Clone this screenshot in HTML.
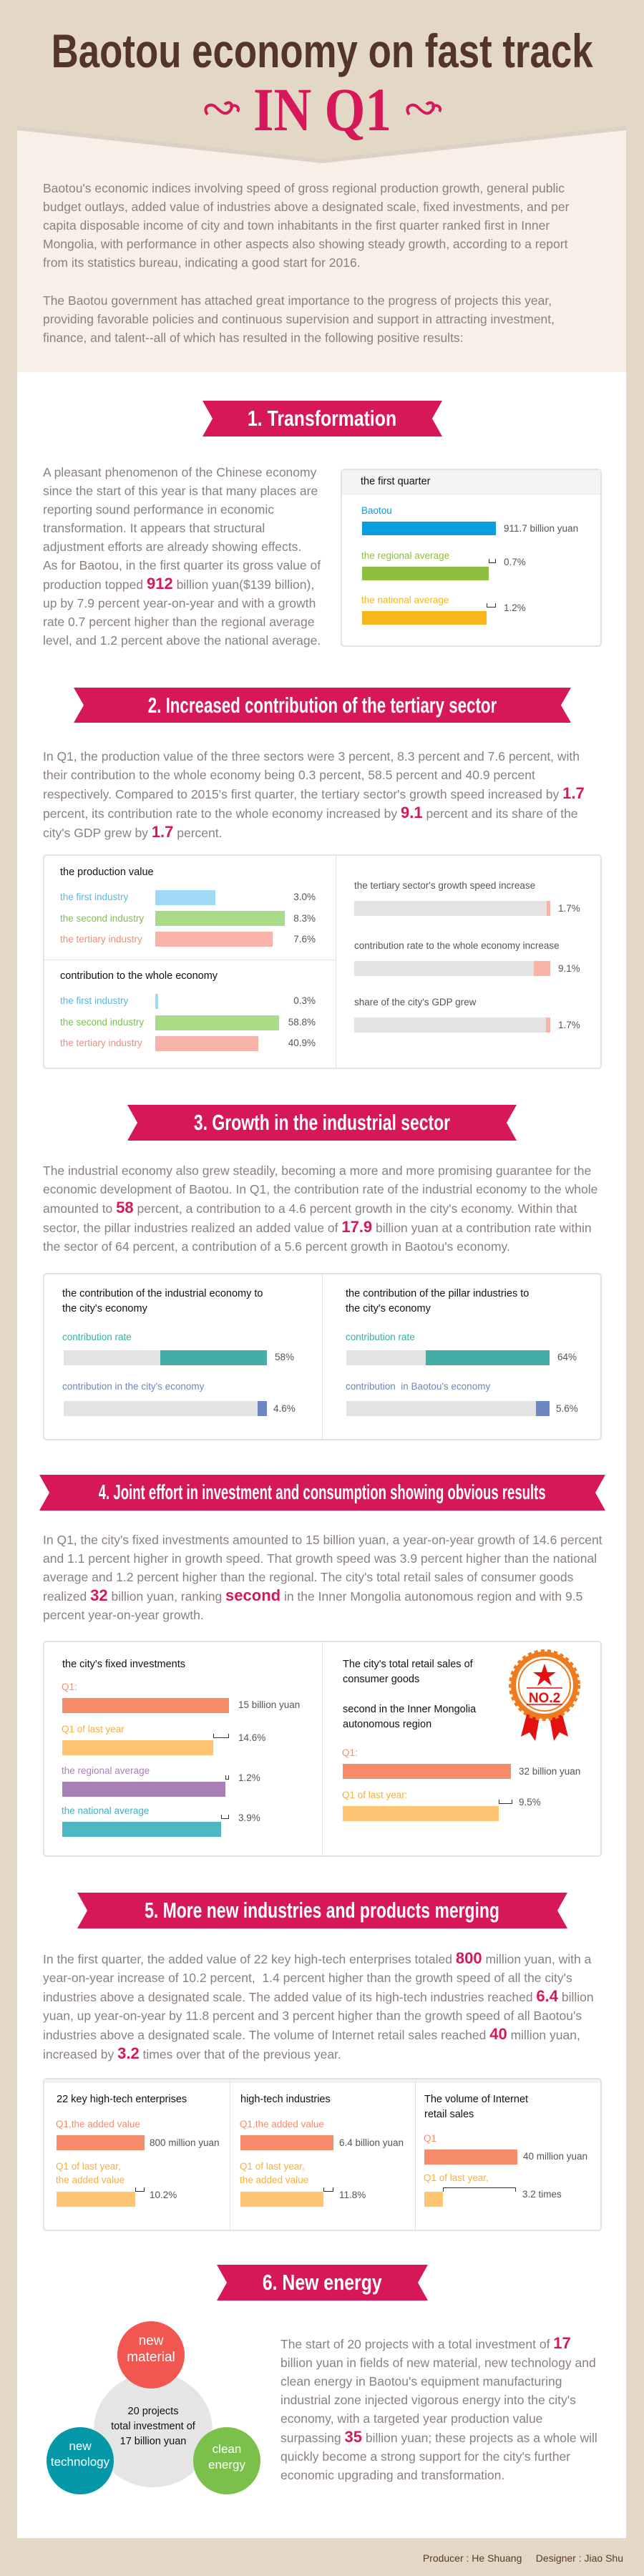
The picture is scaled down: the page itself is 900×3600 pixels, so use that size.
<!DOCTYPE html>
<html><head><meta charset="utf-8">
<style>
*{margin:0;padding:0;box-sizing:border-box}
body{width:900px;height:3600px;background:#e3d8c6;position:relative;overflow:hidden;font-family:"Liberation Sans",sans-serif}
.a{position:absolute}
.t{position:absolute;white-space:nowrap;line-height:20px;font-size:13.5px;color:#555}
.p{position:absolute;white-space:nowrap;font-size:17.5px;line-height:26px;color:#8b817d;letter-spacing:0px}
.p b{color:#d6185a;font-size:22px;font-weight:bold}
.ban{position:absolute;background:#d6185a;clip-path:polygon(0 0,100% 0,calc(100% - 14px) 50%,100% 100%,0 100%,14px 50%);color:#fff;font-weight:bold;display:flex;justify-content:center;align-items:center}
.ban span{display:inline-block;transform:scaleX(0.8);white-space:nowrap;font-size:31px;line-height:50px;flex:none}
.box{position:absolute;border:2px solid #e2e2e2;border-radius:5px;background:#fff}
.bar{position:absolute}
.br{position:absolute;border:1.5px solid #333;border-top:none;height:6px}
.h{color:#111;font-size:14.5px}
</style></head><body>

<div class="a" style="left:24px;top:176px;width:851px;height:344px;background:#f6f0e7"></div>
<div class="a" style="left:24px;top:520px;width:851px;height:3027px;background:#fff"></div>
<svg class="a" style="left:0;top:0" width="900" height="240">
<polygon points="24,182 450,228 875,182 875,170 24,170" fill="#c8beb2" opacity="0.6"/>
<polygon points="24,176 450,222 875,176 875,0 24,0" fill="#e3d8c6"/>
<g fill="none" stroke="#d6185a" stroke-width="4">
<path d="M290,160 c-8,-10 4,-18 12,-10 c8,8 14,12 20,4 c6,-8 -2,-14 -8,-8"/>
<path d="M322,150 c6,-6 14,0 10,6"/>
<path d="M572,160 c-8,-10 4,-18 12,-10 c8,8 14,12 20,4 c6,-8 -2,-14 -8,-8"/>
<path d="M604,150 c6,-6 14,0 10,6"/>
</g>
</svg>

<div class="a" style="left:0;top:38px;width:900px;display:flex;justify-content:center;font-weight:bold;color:#55342a;font-size:66px;line-height:66px"><span style="display:inline-block;transform:scaleX(0.8);white-space:nowrap;flex:none">Baotou economy on fast track</span></div>
<div class="a" style="left:0;top:113px;width:900px;text-align:center;font-family:'Liberation Serif',serif;font-weight:bold;color:#d6185a;font-size:86px;line-height:80px"><span style="display:inline-block;transform:scaleX(0.85)">IN Q1</span></div>

<div class="p" style="left:60px;top:250px">Baotou's economic indices involving speed of gross regional production growth, general public<br>budget outlays, added value of industries above a designated scale, fixed investments, and per<br>capita disposable income of city and town inhabitants in the first quarter ranked first in Inner<br>Mongolia, with performance in other aspects also showing steady growth, according to a report<br>from its statistics bureau, indicating a good start for 2016.</div>
<div class="p" style="left:60px;top:407px">The Baotou government has attached great importance to the progress of projects this year,<br>providing favorable policies and continuous supervision and support in attracting investment,<br>finance, and talent--all of which has resulted in the following positive results:</div>

<div class="ban" style="left:283px;top:560px;width:335px;height:50px"><span>1. Transformation</span></div>
<div class="p" style="left:60px;top:647px">A pleasant phenomenon of the Chinese economy<br>since the start of this year is that many places are<br>reporting sound performance in economic<br>transformation. It appears that structural<br>adjustment efforts are already showing effects.<br>As for Baotou, in the first quarter its gross value of<br>production topped <b>912</b> billion yuan($139 billion),<br>up by 7.9 percent year-on-year and with a growth<br>rate 0.7 percent higher than the regional average<br>level, and 1.2 percent above the national average.</div>

<div class="box" style="left:476px;top:655px;width:365px;height:249px"></div>
<div class="a" style="left:478px;top:657px;width:361px;height:34px;background:#f4f4f4;border-bottom:1px solid #e8e8e8"></div>
<div class="t h" style="left:504px;top:663px">the first quarter</div>
<div class="t" style="left:505px;top:704px;color:#0a9ade">Baotou</div>
<div class="bar" style="left:506px;top:729px;width:187px;height:19px;background:#0a9de0"></div>
<div class="t" style="left:704px;top:729px">911.7 billion yuan</div>
<div class="t" style="left:505px;top:767px;color:#8fbf40">the regional average</div>
<div class="bar" style="left:506px;top:792px;width:177px;height:19px;background:#8fbf40"></div>
<div class="br" style="left:683px;top:781px;width:10px"></div>
<div class="t" style="left:704px;top:776px">0.7%</div>
<div class="t" style="left:505px;top:829px;color:#f5b61e">the national average</div>
<div class="bar" style="left:506px;top:854px;width:174px;height:19px;background:#f5b61e"></div>
<div class="br" style="left:680px;top:843px;width:13px"></div>
<div class="t" style="left:704px;top:840px">1.2%</div>

<div class="ban" style="left:103px;top:961px;width:695px;height:49px"><span style="transform:scaleX(0.72)">2. Increased contribution of the tertiary sector</span></div>
<div class="p" style="left:60px;top:1044px">In Q1, the production value of the three sectors were 3 percent, 8.3 percent and 7.6 percent, with<br>their contribution to the whole economy being 0.3 percent, 58.5 percent and 40.9 percent<br>respectively. Compared to 2015's first quarter, the tertiary sector's growth speed increased by <b>1.7</b><br>percent, its contribution rate to the whole economy increased by <b>9.1</b> percent and its share of the<br>city's GDP grew by <b>1.7</b> percent.</div>

<div class="box" style="left:60px;top:1194px;width:781px;height:300px"></div>
<div class="a" style="left:469px;top:1196px;width:1px;height:296px;background:#e2e2e2"></div>
<div class="a" style="left:62px;top:1341px;width:408px;height:1px;background:#e2e2e2"></div>
<div class="t h" style="left:84px;top:1209px">the production value</div>
<div class="t" style="left:84px;top:1244px;color:#55b8e8">the first industry</div>
<div class="bar" style="left:217px;top:1244px;width:84px;height:21px;background:#a0d8f5"></div>
<div class="t" style="left:400px;top:1244px;width:41px;text-align:right">3.0%</div>
<div class="t" style="left:84px;top:1274px;color:#7cc04a">the second industry</div>
<div class="bar" style="left:217px;top:1273px;width:181px;height:21px;background:#aadc88"></div>
<div class="t" style="left:400px;top:1274px;width:41px;text-align:right">8.3%</div>
<div class="t" style="left:84px;top:1303px;color:#f08d7b">the tertiary industry</div>
<div class="bar" style="left:217px;top:1302px;width:164px;height:21px;background:#f7b3a7"></div>
<div class="t" style="left:400px;top:1303px;width:41px;text-align:right">7.6%</div>
<div class="t h" style="left:84px;top:1354px">contribution to the whole economy</div>
<div class="t" style="left:84px;top:1389px;color:#55b8e8">the first industry</div>
<div class="bar" style="left:217px;top:1389px;width:4px;height:21px;background:#a0d8f5"></div>
<div class="t" style="left:400px;top:1389px;width:41px;text-align:right">0.3%</div>
<div class="t" style="left:84px;top:1419px;color:#7cc04a">the second industry</div>
<div class="bar" style="left:217px;top:1419px;width:173px;height:21px;background:#aadc88"></div>
<div class="t" style="left:400px;top:1419px;width:41px;text-align:right">58.8%</div>
<div class="t" style="left:84px;top:1448px;color:#f08d7b">the tertiary industry</div>
<div class="bar" style="left:217px;top:1448px;width:144px;height:21px;background:#f7b3a7"></div>
<div class="t" style="left:400px;top:1448px;width:41px;text-align:right">40.9%</div>

<div class="t" style="left:495px;top:1228px">the tertiary sector's growth speed increase</div>
<div class="bar" style="left:495px;top:1259px;width:274px;height:21px;background:#e3e3e3"></div>
<div class="bar" style="left:764px;top:1259px;width:5px;height:21px;background:#f7b3a7"></div>
<div class="t" style="left:780px;top:1260px">1.7%</div>
<div class="t" style="left:495px;top:1312px">contribution rate to the whole economy increase</div>
<div class="bar" style="left:495px;top:1343px;width:274px;height:21px;background:#e3e3e3"></div>
<div class="bar" style="left:746px;top:1343px;width:23px;height:21px;background:#f7b3a7"></div>
<div class="t" style="left:780px;top:1344px">9.1%</div>
<div class="t" style="left:495px;top:1391px">share of the city's GDP grew</div>
<div class="bar" style="left:495px;top:1422px;width:274px;height:21px;background:#e3e3e3"></div>
<div class="bar" style="left:763px;top:1422px;width:6px;height:21px;background:#f7b3a7"></div>
<div class="t" style="left:780px;top:1423px">1.7%</div>

<div class="ban" style="left:178px;top:1544px;width:544px;height:50px"><span style="transform:scaleX(0.74)">3. Growth in the industrial sector</span></div>
<div class="p" style="left:60px;top:1623px">The industrial economy also grew steadily, becoming a more and more promising guarantee for the<br>economic development of Baotou. In Q1, the contribution rate of the industrial economy to the whole<br>amounted to <b>58</b> percent, a contribution to a 4.6 percent growth in the city's economy. Within that<br>sector, the pillar industries realized an added value of <b>17.9</b> billion yuan at a contribution rate within<br>the sector of 64 percent, a contribution of a 5.6 percent growth in Baotou's economy.</div>

<div class="box" style="left:60px;top:1779px;width:781px;height:234px"></div>
<div class="a" style="left:450px;top:1781px;width:1px;height:230px;background:#e2e2e2"></div>
<div class="t h" style="left:87px;top:1798px;line-height:21px">the contribution of the industrial economy to<br>the city's economy</div>
<div class="t h" style="left:483px;top:1798px;line-height:21px">the contribution of the pillar industries to<br>the city's economy</div>
<div class="t" style="left:87px;top:1859px;color:#3aaea0">contribution rate</div>
<div class="bar" style="left:89px;top:1887px;width:284px;height:21px;background:#e3e3e3"></div>
<div class="bar" style="left:224px;top:1887px;width:149px;height:21px;background:#43aea5"></div>
<div class="t" style="left:384px;top:1887px">58%</div>
<div class="t" style="left:87px;top:1928px;color:#6b86c0">contribution in the city's economy</div>
<div class="bar" style="left:89px;top:1958px;width:284px;height:21px;background:#e3e3e3"></div>
<div class="bar" style="left:360px;top:1958px;width:13px;height:21px;background:#6b86c0"></div>
<div class="t" style="left:382px;top:1959px">4.6%</div>
<div class="t" style="left:483px;top:1859px;color:#3aaea0">contribution rate</div>
<div class="bar" style="left:484px;top:1887px;width:284px;height:21px;background:#e3e3e3"></div>
<div class="bar" style="left:595px;top:1887px;width:173px;height:21px;background:#43aea5"></div>
<div class="t" style="left:779px;top:1887px">64%</div>
<div class="t" style="left:483px;top:1928px;color:#6b86c0">contribution &nbsp;in Baotou's economy</div>
<div class="bar" style="left:484px;top:1958px;width:284px;height:21px;background:#e3e3e3"></div>
<div class="bar" style="left:749px;top:1958px;width:19px;height:21px;background:#6b86c0"></div>
<div class="t" style="left:777px;top:1959px">5.6%</div>

<div class="ban" style="left:55px;top:2061px;width:791px;height:50px"><span style="font-size:29px;transform:scaleX(0.64)">4. Joint effort in investment and consumption showing obvious results</span></div>
<div class="p" style="left:60px;top:2139px">In Q1, the city's fixed investments amounted to 15 billion yuan, a year-on-year growth of 14.6 percent<br>and 1.1 percent higher in growth speed. That growth speed was 3.9 percent higher than the national<br>average and 1.2 percent higher than the regional. The city's total retail sales of consumer goods<br>realized <b>32</b> billion yuan, ranking <b>second</b> in the Inner Mongolia autonomous region and with 9.5<br>percent year-on-year growth.</div>

<div class="box" style="left:60px;top:2293px;width:781px;height:302px"></div>
<div class="a" style="left:450px;top:2295px;width:1px;height:298px;background:#e2e2e2"></div>
<div class="t h" style="left:87px;top:2316px">the city's fixed investments</div>
<div class="t" style="left:86px;top:2348px;color:#f68c6a">Q1:</div>
<div class="bar" style="left:87px;top:2373px;width:233px;height:21px;background:#f68c6a"></div>
<div class="t" style="left:333px;top:2373px">15 billion yuan</div>
<div class="t" style="left:86px;top:2407px;color:#f9ae3e">Q1 of last year</div>
<div class="bar" style="left:87px;top:2432px;width:211px;height:21px;background:#fec573"></div>
<div class="br" style="left:298px;top:2423px;width:22px"></div>
<div class="t" style="left:333px;top:2419px">14.6%</div>
<div class="t" style="left:86px;top:2465px;color:#a97fb8">the regional average</div>
<div class="bar" style="left:87px;top:2490px;width:228px;height:21px;background:#a97fb8"></div>
<div class="br" style="left:315px;top:2481px;width:5px"></div>
<div class="t" style="left:333px;top:2475px">1.2%</div>
<div class="t" style="left:86px;top:2521px;color:#3bb3c3">the national average</div>
<div class="bar" style="left:87px;top:2546px;width:222px;height:21px;background:#4db8c4"></div>
<div class="br" style="left:309px;top:2536px;width:11px"></div>
<div class="t" style="left:333px;top:2531px">3.9%</div>

<div class="t h" style="left:479px;top:2316px;line-height:21px">The city's total retail sales of<br>consumer goods</div>
<div class="t h" style="left:479px;top:2379px;line-height:21px">second in the Inner Mongolia<br>autonomous region</div>
<svg class="a" style="left:706px;top:2305px" width="110" height="135">
<polygon points="38,60 22,122 34,116 42,128 52,72" fill="#e3110f"/>
<polygon points="72,60 88,122 76,116 68,128 58,72" fill="#e3110f"/>
<circle cx="55" cy="50" r="47" fill="#f07a1e" stroke="#f07a1e" stroke-width="6" stroke-dasharray="5 4"/>
<circle cx="55" cy="50" r="40" fill="#fff"/>
<circle cx="55" cy="50" r="36" fill="none" stroke="#f07a1e" stroke-width="2"/>
<polygon points="55,20 59,32 71,32 61,39 65,51 55,43 45,51 49,39 39,32 51,32" fill="#e3110f"/>
<line x1="30" y1="54" x2="80" y2="54" stroke="#e3110f" stroke-width="1.5"/>
<line x1="30" y1="77" x2="80" y2="77" stroke="#e3110f" stroke-width="1.5"/>
<text x="55" y="74" text-anchor="middle" font-family="Liberation Sans" font-weight="bold" font-size="19" fill="#e3110f">NO.2</text>
</svg>
<div class="t" style="left:478px;top:2440px;color:#f68c6a">Q1:</div>
<div class="bar" style="left:479px;top:2465px;width:235px;height:21px;background:#f68c6a"></div>
<div class="t" style="left:725px;top:2466px">32 billion yuan</div>
<div class="t" style="left:478px;top:2499px;color:#f9ae3e">Q1 of last year:</div>
<div class="bar" style="left:479px;top:2524px;width:218px;height:21px;background:#fec573"></div>
<div class="br" style="left:697px;top:2515px;width:19px"></div>
<div class="t" style="left:725px;top:2509px">9.5%</div>

<div class="ban" style="left:108px;top:2645px;width:685px;height:50px"><span style="transform:scaleX(0.74)">5. More new industries and products merging</span></div>
<div class="p" style="left:60px;top:2724px">In the first quarter, the added value of 22 key high-tech enterprises totaled <b>800</b> million yuan, with a<br>year-on-year increase of 10.2 percent, &nbsp;1.4 percent higher than the growth speed of all the city's<br>industries above a designated scale. The added value of its high-tech industries reached <b>6.4</b> billion<br>yuan, up year-on-year by 11.8 percent and 3 percent higher than the growth speed of all Baotou's<br>industries above a designated scale. The volume of Internet retail sales reached <b>40</b> million yuan,<br>increased by <b>3.2</b> times over that of the previous year.</div>

<div class="box" style="left:60px;top:2904px;width:781px;height:214px"></div>
<div class="a" style="left:62px;top:2906px;width:777px;height:5px;background:#f2f2f2"></div>
<div class="a" style="left:321px;top:2906px;width:1px;height:210px;background:#e2e2e2"></div>
<div class="a" style="left:580px;top:2906px;width:1px;height:210px;background:#e2e2e2"></div>
<div class="t h" style="left:79px;top:2924px">22 key high-tech enterprises</div>
<div class="t h" style="left:336px;top:2924px">high-tech industries</div>
<div class="t h" style="left:593px;top:2924px;line-height:21px">The volume of Internet<br>retail sales</div>

<div class="t" style="left:78px;top:2959px;color:#f68c6a">Q1,the added value</div>
<div class="bar" style="left:79px;top:2984px;width:123px;height:21px;background:#f68c6a"></div>
<div class="t" style="left:209px;top:2985px">800 million yuan</div>
<div class="t" style="left:78px;top:3018px;line-height:19px;color:#f9ae3e">Q1 of last year,<br>the added value</div>
<div class="bar" style="left:79px;top:3063px;width:110px;height:21px;background:#fec573"></div>
<div class="br" style="left:189px;top:3057px;width:13px"></div>
<div class="t" style="left:209px;top:3058px">10.2%</div>

<div class="t" style="left:335px;top:2959px;color:#f68c6a">Q1,the added value</div>
<div class="bar" style="left:336px;top:2984px;width:130px;height:21px;background:#f68c6a"></div>
<div class="t" style="left:474px;top:2985px">6.4 billion yuan</div>
<div class="t" style="left:335px;top:3018px;line-height:19px;color:#f9ae3e">Q1 of last year,<br>the added value</div>
<div class="bar" style="left:336px;top:3063px;width:116px;height:21px;background:#fec573"></div>
<div class="br" style="left:452px;top:3057px;width:14px"></div>
<div class="t" style="left:474px;top:3058px">11.8%</div>

<div class="t" style="left:592px;top:2979px;color:#f68c6a">Q1</div>
<div class="bar" style="left:593px;top:3004px;width:130px;height:21px;background:#f68c6a"></div>
<div class="t" style="left:731px;top:3004px">40 million yuan</div>
<div class="t" style="left:592px;top:3034px;color:#f9ae3e">Q1 of last year,</div>
<div class="bar" style="left:593px;top:3063px;width:26px;height:21px;background:#fec573"></div>
<div class="br" style="left:619px;top:3057px;width:102px;border-bottom:none;border-top:1.5px solid #333;height:6px"></div>
<div class="t" style="left:730px;top:3057px">3.2 times</div>

<div class="ban" style="left:303px;top:3165px;width:295px;height:50px"><span>6. New energy</span></div>
<svg class="a" style="left:0;top:3200px" width="400" height="300">
<ellipse cx="214" cy="196" rx="83" ry="80" fill="#e5e5e5"/>
<ellipse cx="211" cy="91" rx="47" ry="47" fill="#f15650"/>
<ellipse cx="112" cy="239" rx="47" ry="47" fill="#0598a8"/>
<ellipse cx="317" cy="239" rx="47" ry="47" fill="#7bc04a"/>
</svg>
<div class="t" style="left:161px;top:3260px;width:100px;text-align:center;color:#fff;font-size:19px;line-height:23px">new<br>material</div>
<div class="t" style="left:134px;top:3360px;width:160px;text-align:center;color:#111;font-size:14.5px;line-height:21px">20 projects<br>total investment of<br>17 billion yuan</div>
<div class="t" style="left:62px;top:3408px;width:100px;text-align:center;color:#fff;font-size:17px;line-height:22px">new<br>technology</div>
<div class="t" style="left:267px;top:3412px;width:100px;text-align:center;color:#fff;font-size:17px;line-height:22px">clean<br>energy</div>
<div class="p" style="left:392px;top:3262px">The start of 20 projects with a total investment of <b>17</b><br>billion yuan in fields of new material, new technology and<br>clean energy in Baotou's equipment manufacturing<br>industrial zone injected vigorous energy into the city's<br>economy, with a targeted year production value<br>surpassing <b>35</b> billion yuan; these projects as a whole will<br>quickly become a strong support for the city's further<br>economic upgrading and transformation.</div>

<div class="t" style="left:560px;top:3565px;width:311px;text-align:right;color:#5a3a28;font-size:14px">Producer : He Shuang &nbsp;&nbsp;&nbsp; Designer : Jiao Shu</div>
</body></html>
